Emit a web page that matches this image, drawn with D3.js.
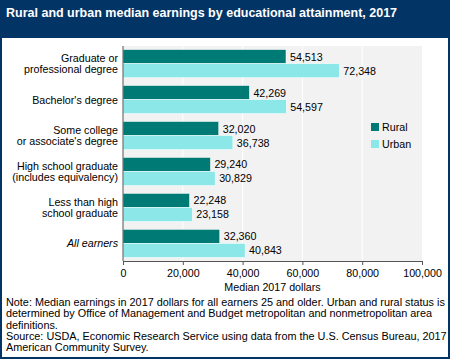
<!DOCTYPE html>
<html><head><meta charset="utf-8">
<script src="https://cdn.jsdelivr.net/npm/d3@7"></script>
<style>html,body{margin:0;padding:0;background:#fff;}svg{display:block;}svg text{font-family:"Liberation Sans",Arial,sans-serif;}</style>
</head><body>
<svg id="c" width="450" height="359"></svg>
<script>
const title = "Rural and urban median earnings by educational attainment, 2017";
const categories = [
  ["Graduate or", "professional degree"],
  ["Bachelor's degree"],
  ["Some college", "or associate's degree"],
  ["High school graduate", "(includes equivalency)"],
  ["Less than high", "school graduate"],
  ["All earners"]
];
const seriesNames = ["Rural", "Urban"];
const rural = [54513, 42269, 32020, 29240, 22248, 32360];
const urban = [72348, 54597, 36738, 30829, 23158, 40843];
const xTicks = [0, 20000, 40000, 60000, 80000, 100000];
const axisTitle = "Median 2017 dollars";
const notes = [
  "Note: Median earnings in 2017 dollars for all earners 25 and older. Urban and rural status is",
  "determined by Office of Management and Budget metropolitan and nonmetropolitan area",
  "definitions.",
  "Source: USDA, Economic Research Service using data from the U.S. Census Bureau, 2017",
  "American Community Survey."
];
const colors = ["#007a74", "#8ce8e8"];
const FS = "10.7px";

const svg = d3.select("#c");
const W = 450, H = 359;
svg.append("rect").attr("x",0).attr("y",0).attr("width",W).attr("height",H).attr("fill","#fff");
svg.append("rect").attr("x",0).attr("y",0).attr("width",W).attr("height",38).attr("fill","#033466");
svg.append("text").attr("x",6).attr("y",17).attr("fill","#fff").attr("font-weight","bold").attr("font-size","12.5px").text(title);
// border
svg.append("rect").attr("x",1).attr("y",0).attr("width",W-2).attr("height",H-1).attr("fill","none").attr("stroke","#033466").attr("stroke-width",2);

const x = d3.scaleLinear().domain([0,100000]).range([123,422]);
const y = d3.scaleBand().domain(d3.range(categories.length)).range([46,261]).paddingInner(0.22).paddingOuter(0.1);
const ys = d3.scaleBand().domain([0,1]).range([0,y.bandwidth()]);

const g = svg.append("g");
g.append("rect").attr("x",x(0)).attr("y",46).attr("width",x(100000)-x(0)).attr("height",261-46).attr("fill","#f2f2f2");
g.selectAll(".grid").data(xTicks.slice(1,-1)).enter().append("line")
  .attr("x1",d=>x(d)).attr("x2",d=>x(d)).attr("y1",46).attr("y2",261).attr("stroke","#fff").attr("stroke-width",1);

const data = [rural, urban];
data.forEach((vals, si) => {
  g.selectAll(".b"+si).data(vals).enter().append("rect")
    .attr("x", x(0)).attr("y",(d,i)=>y(i)+ys(si)).attr("width",d=>x(d)-x(0)).attr("height",ys.bandwidth())
    .attr("fill",colors[si]).attr("stroke","#fff").attr("stroke-width",0.5);
  g.selectAll(".l"+si).data(vals).enter().append("text")
    .attr("x",d=>x(d)+4).attr("y",(d,i)=>y(i)+ys(si)+ys.bandwidth()/2+4)
    .attr("font-size",FS).attr("fill","#000").text(d=>d3.format(",")(d));
});

// category labels
categories.forEach((lines,i) => {
  const cy = y(i)+y.bandwidth()/2;
  const t = g.append("text").attr("text-anchor","end").attr("font-size",FS).attr("fill","#000")
    .attr("font-style", i===categories.length-1 ? "italic" : null);
  lines.forEach((ln,k)=>{
    t.append("tspan").attr("x",118).attr("y", cy + 4 + (k-(lines.length-1)/2)*11.5).text(ln);
  });
});

// axes
const ax = d3.axisBottom(x).tickValues(xTicks).tickFormat(d3.format(",")).tickSize(4).tickSizeOuter(0);
const axg = svg.append("g").attr("transform","translate(0,261)").call(ax);
axg.attr("font-family",null);
axg.select(".domain").attr("stroke","#555");
axg.selectAll(".tick line").attr("stroke","#555");
axg.selectAll("text").attr("font-size",FS).attr("fill","#000").attr("dy",null).attr("y",16);
svg.append("line").attr("x1",x(0)).attr("x2",x(0)).attr("y1",46).attr("y2",261).attr("stroke","#555");
svg.append("text").attr("x",(x(0)+x(100000))/2).attr("y",291).attr("text-anchor","middle").attr("font-size",FS).text(axisTitle);

// legend
seriesNames.forEach((n,i)=>{
  svg.append("rect").attr("x",371).attr("y",123+i*17).attr("width",8).attr("height",8).attr("fill",colors[i]);
  svg.append("text").attr("x",382).attr("y",131+i*17).attr("font-size",FS).text(n);
});

// notes
notes.forEach((ln,i)=>{
  svg.append("text").attr("x",6).attr("y",306+i*11.3).attr("font-size","10.85px").text(ln);
});
</script>
</body></html>
